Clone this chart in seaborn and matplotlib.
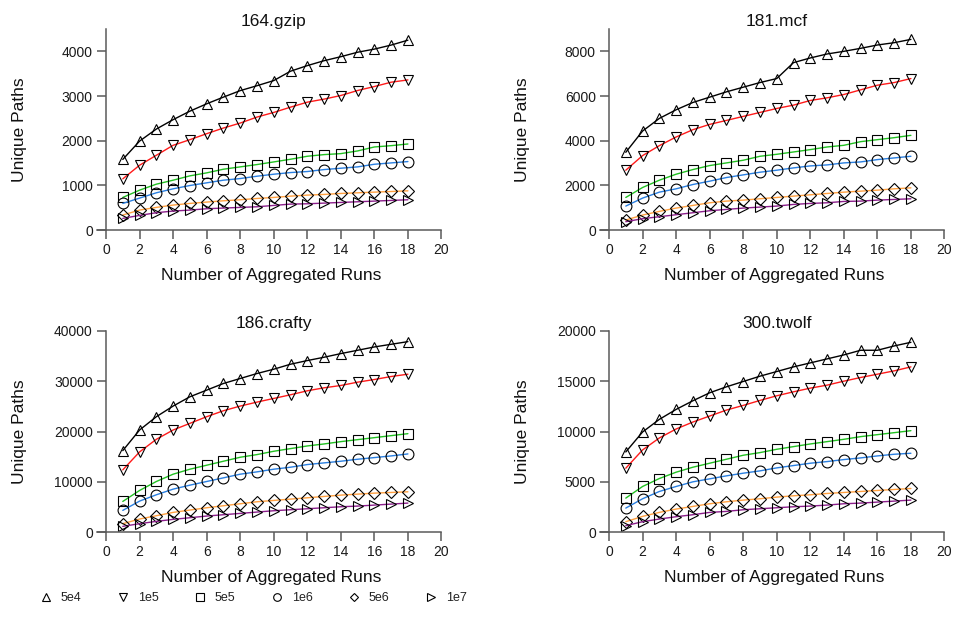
import matplotlib
matplotlib.use("Agg")
import matplotlib.pyplot as plt
from matplotlib.lines import Line2D
import seaborn as sns
import pandas as pd

sns.set_theme(style="ticks")
plt.rcParams['font.family'] = ['Liberation Sans', 'DejaVu Sans']

# ---------------- datos ----------------
runs = list(range(1, 19))
series_names = ["5e4", "1e5", "5e5", "1e6", "5e6", "1e7"]
series_colors = ["#000000", "#ff1a1a", "#22c022", "#2a7fe0", "#ffa040", "#8b1f8b"]
series_markers = ["^", "v", "s", "o", "D", ">"]

gzip_5e4 = [1580, 1990, 2260, 2470, 2660, 2825, 2975, 3120, 3230, 3345, 3555, 3680, 3790, 3880, 3980, 4050, 4140, 4250]
gzip_1e5 = [1145, 1450, 1673, 1896, 2022, 2156, 2283, 2394, 2528, 2632, 2750, 2862, 2930, 3011, 3123, 3212, 3309, 3360]
gzip_5e5 = [729, 892, 1026, 1115, 1212, 1279, 1361, 1413, 1465, 1524, 1584, 1651, 1688, 1710, 1770, 1859, 1888, 1926]
gzip_1e6 = [595, 714, 833, 922, 996, 1056, 1115, 1152, 1204, 1249, 1286, 1309, 1353, 1383, 1413, 1472, 1502, 1532]
gzip_5e6 = [335, 446, 506, 558, 595, 625, 654, 677, 706, 729, 758, 781, 796, 818, 833, 848, 862, 877]
gzip_1e7 = [260, 327, 387, 424, 446, 476, 491, 506, 520, 550, 580, 587, 602, 617, 632, 647, 662, 677]

mcf_5e4 = [3480, 4431, 4996, 5383, 5710, 5948, 6186, 6394, 6602, 6781, 7494, 7703, 7881, 8000, 8134, 8283, 8387, 8535]
mcf_1e5 = [2677, 3331, 3777, 4164, 4491, 4729, 4907, 5086, 5264, 5442, 5591, 5799, 5918, 6067, 6275, 6483, 6602, 6781]
mcf_5e5 = [1457, 1903, 2230, 2498, 2706, 2885, 3004, 3123, 3301, 3390, 3494, 3599, 3717, 3792, 3955, 4045, 4134, 4238]
mcf_1e6 = [1071, 1428, 1695, 1844, 2037, 2186, 2349, 2468, 2587, 2677, 2781, 2870, 2914, 3004, 3048, 3152, 3227, 3301]
mcf_5e6 = [446, 669, 833, 981, 1100, 1219, 1294, 1338, 1398, 1457, 1517, 1576, 1636, 1695, 1740, 1784, 1844, 1888]
mcf_1e7 = [372, 506, 595, 684, 773, 862, 922, 981, 1026, 1071, 1145, 1190, 1219, 1279, 1294, 1338, 1368, 1398]

crafty_5e4 = [16198, 20297, 22942, 25058, 26909, 28231, 29554, 30545, 31537, 32397, 33388, 34116, 34777, 35504, 36165, 36826, 37355, 37884]
crafty_1e5 = [12364, 15934, 18446, 20297, 21620, 22942, 24132, 25058, 25851, 26579, 27306, 28099, 28694, 29157, 29818, 30347, 30942, 31405]
crafty_5e5 = [6083, 8264, 10050, 11504, 12496, 13289, 14083, 14876, 15405, 16066, 16595, 17124, 17521, 17983, 18380, 18777, 19174, 19570]
crafty_1e6 = [4298, 6149, 7405, 8529, 9322, 10050, 10777, 11504, 11967, 12496, 12893, 13421, 13752, 14083, 14479, 14810, 15140, 15537]
crafty_5e6 = [1653, 2579, 3240, 3901, 4364, 4826, 5223, 5620, 6017, 6281, 6545, 6810, 7074, 7339, 7537, 7736, 7868, 8000]
crafty_1e7 = [1124, 1653, 2116, 2512, 2843, 3174, 3438, 3702, 3967, 4231, 4430, 4628, 4826, 5025, 5157, 5355, 5554, 5752]

twolf_5e4 = [7967, 9950, 11207, 12198, 13058, 13851, 14446, 14975, 15504, 15967, 16430, 16826, 17223, 17620, 18083, 18083, 18512, 18876]
twolf_1e5 = [6347, 8165, 9355, 10248, 10942, 11537, 12132, 12595, 13091, 13554, 13950, 14314, 14612, 15008, 15372, 15702, 16033, 16430]
twolf_5e5 = [3372, 4529, 5322, 5950, 6446, 6843, 7240, 7636, 7901, 8231, 8496, 8760, 8992, 9223, 9488, 9686, 9884, 10083]
twolf_1e6 = [2380, 3306, 4033, 4529, 4992, 5289, 5587, 5851, 6083, 6380, 6612, 6843, 7008, 7207, 7372, 7570, 7736, 7835]
twolf_5e6 = [1025, 1554, 1950, 2281, 2545, 2810, 3008, 3174, 3306, 3471, 3603, 3702, 3835, 3934, 4033, 4132, 4231, 4331]
twolf_1e7 = [628, 1025, 1289, 1521, 1719, 1950, 2050, 2215, 2314, 2413, 2512, 2579, 2678, 2810, 2876, 2975, 3074, 3174]

benchmarks = ["164.gzip", "181.mcf", "186.crafty", "300.twolf"]
bench_data = {
    "164.gzip": [gzip_5e4, gzip_1e5, gzip_5e5, gzip_1e6, gzip_5e6, gzip_1e7],
    "181.mcf": [mcf_5e4, mcf_1e5, mcf_5e5, mcf_1e6, mcf_5e6, mcf_1e7],
    "186.crafty": [crafty_5e4, crafty_1e5, crafty_5e5, crafty_1e6, crafty_5e6, crafty_1e7],
    "300.twolf": [twolf_5e4, twolf_1e5, twolf_5e5, twolf_1e6, twolf_5e6, twolf_1e7],
}
y_top = [4500, 9000, 40000, 20000]
y_step = [1000, 2000, 10000, 5000]
x_ticks = list(range(0, 21, 2))

# ---------------- figura ----------------
W, H = 957, 621
fig = plt.figure(figsize=(W / 100, H / 100), dpi=100)

axis_gray = "#5a5a5a"
pos = [(96.8, 29), (599.8, 29), (96.8, 331), (599.8, 331)]
ax_w, ax_h = 348, 201

for i, bench in enumerate(benchmarks):
    left, top = pos[i]
    ax = fig.add_axes([left / W, 1 - (top + ax_h) / H, ax_w / W, ax_h / H])
    for name, vals, col, mk in zip(series_names, bench_data[bench], series_colors, series_markers):
        df = pd.DataFrame({"runs": runs, "paths": vals})
        sns.lineplot(data=df, x="runs", y="paths", ax=ax, color=col, linewidth=1.0,
                     marker=mk, markersize=7.8 if mk != "D" else 6.3, markerfacecolor="none",
                     markeredgecolor="black", markeredgewidth=0.8, clip_on=False)
    ax.set_xlim(-0.55, 20.2)
    ax.set_ylim(0, y_top[i])
    ax.set_xticks(x_ticks)
    ax.set_yticks(list(range(0, y_top[i] + 1, y_step[i])))
    for s in ["top", "right"]:
        ax.spines[s].set_visible(False)
    ax.spines["left"].set_position(("data", 0))
    ax.spines["bottom"].set_bounds(-0.55, 20)
    for s in ["left", "bottom"]:
        ax.spines[s].set_color(axis_gray)
        ax.spines[s].set_linewidth(1.1)
    ax.tick_params(axis="both", direction="out", length=6.5, width=1.1, color=axis_gray,
                   labelsize=10, labelcolor="#1a1a1a", pad=3)
    ax.set_title(bench, fontsize=12.5, x=0.509, pad=2, color="#111111")
    ax.set_xlabel("Number of Aggregated Runs", fontsize=12.5, color="#111111")
    ax.set_ylabel("Unique Paths", fontsize=12.5, color="#111111")
    ax.xaxis.set_label_coords(0.5, -0.19)
    ax.yaxis.set_label_coords(-0.2006, 0.5)
    ax.set_facecolor("white")

# leyenda inferior
handles = [Line2D([], [], linestyle="none", marker=mk, markersize=5.5 if mk != "D" else 4.5,
                  markerfacecolor="none", markeredgecolor="black", markeredgewidth=0.8)
           for mk in series_markers]
fig.legend(handles, series_names, loc="center left", bbox_to_anchor=(27 / W, 1 - 598 / H),
           ncol=6, frameon=False, fontsize=9, handlelength=1.2, handletextpad=0.6,
           columnspacing=2.7, labelcolor="#222222")

plt.savefig("out.png", dpi=100, facecolor="white")
